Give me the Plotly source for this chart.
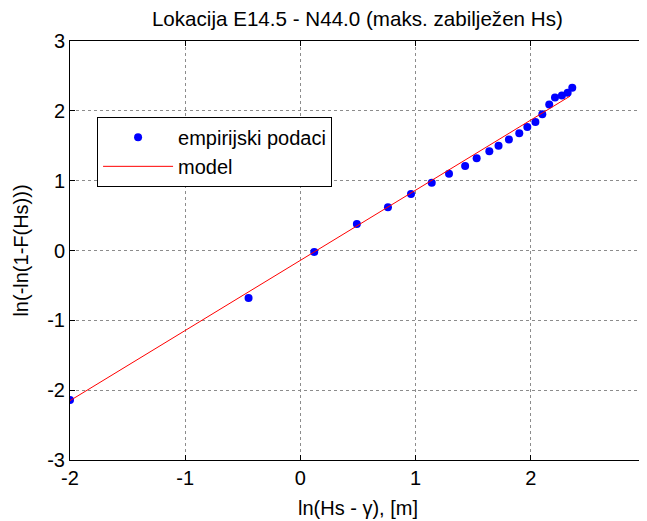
import plotly.graph_objects as go

emp_x = [-2.00, -0.45, 0.12, 0.49, 0.76, 0.96, 1.14, 1.29, 1.43, 1.53, 1.64,
         1.72, 1.81, 1.90, 1.97, 2.04, 2.10, 2.16, 2.21, 2.27, 2.32, 2.36]
emp_y = [-2.14, -0.68, -0.02, 0.38, 0.62, 0.81, 0.97, 1.10, 1.21, 1.32, 1.42,
         1.50, 1.59, 1.68, 1.77, 1.84, 1.95, 2.09, 2.19, 2.22, 2.26, 2.33]

# fitted model line (end points)
model_x = [-2.00, 2.34]
model_y = [-2.15, 2.21]

x_ticks = [-2, -1, 0, 1, 2, 3]
x_labels = ["-2", "-1", "0", "1", "2", "3"]
y_ticks = [-3, -2, -1, 0, 1, 2, 3]
y_labels = ["-3", "-2", "-1", "0", "1", "2", "3"]

FONT = "Liberation Sans, Arial, sans-serif"

fig = go.Figure()
fig.add_trace(go.Scatter(
    x=emp_x, y=emp_y, mode="markers", name="empirijski podaci",
    marker=dict(color="#0000ff", size=8),
))
fig.add_trace(go.Scatter(
    x=model_x, y=model_y, mode="lines", name="model",
    line=dict(color="#ff0000", width=1),
))

axis_common = dict(
    showline=True, linecolor="black", linewidth=1, mirror="ticks",
    ticks="inside", ticklen=5, tickcolor="black",
    showgrid=True, gridcolor="#8c8c8c", griddash="dot", gridwidth=1,
    zeroline=False, tickfont=dict(size=20, color="black"),
    automargin=False,
)

fig.update_xaxes(range=[-2, 3], tickvals=x_ticks, ticktext=x_labels,
                 title=dict(text="ln(Hs - γ), [m]", font=dict(size=20, color="black"), standoff=12),
                 **axis_common)
fig.update_yaxes(range=[-3, 3], tickvals=y_ticks, ticktext=y_labels,
                 title=dict(text="ln(-ln(1-F(Hs)))", font=dict(size=20, color="black"), standoff=13),
                 **axis_common)

# the page body adds 8px on the left and top, margins account for it
fig.update_layout(
    width=647, height=521,
    margin=dict(l=62, r=9, t=33, b=69, autoexpand=False),
    paper_bgcolor="white", plot_bgcolor="white",
    font=dict(family=FONT, size=20, color="black"),
    title=dict(text="Lokacija E14.5 - N44.0 (maks. zabilježen Hs)",
               x=0.540, xanchor="center", y=0.979, yanchor="middle",
               font=dict(size=20.6, color="black")),
    legend=dict(x=0.047, y=0.819, xanchor="left", yanchor="top",
                bgcolor="white", bordercolor="black", borderwidth=1,
                font=dict(size=20, color="black"), itemwidth=70,
                tracegroupgap=0),
    showlegend=True,
)

fig.write_html("out.html")
